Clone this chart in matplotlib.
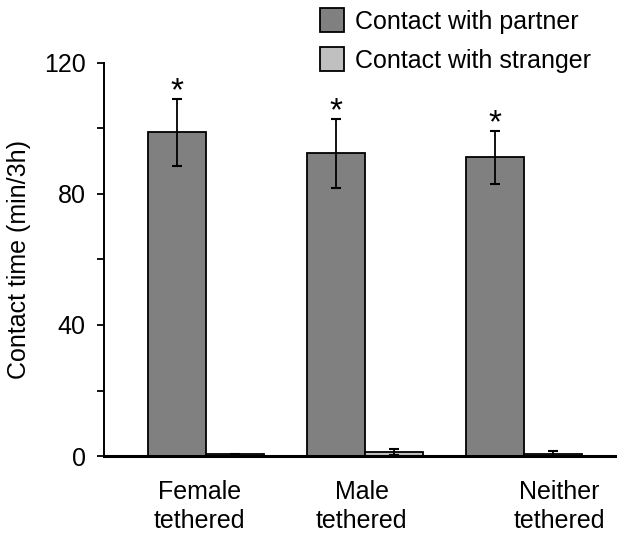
import matplotlib
matplotlib.use("Agg")
import matplotlib.pyplot as plt
import numpy as np

# Contact time (min/3h)
groups = ['Female\ntethered', 'Male\ntethered', 'Neither\ntethered']
partner = [98.8, 92.4, 91.2]
partner_err = [10.2, 10.5, 8.1]
stranger = [0.5, 1.3, 0.7]
stranger_err = [0.3, 1.0, 0.8]
series_names = ['Contact with partner', 'Contact with stranger']
colors = ['#808080', '#c0c0c0']

plt.rcParams['font.family'] = ['Liberation Sans', 'DejaVu Sans']

fig = plt.figure(figsize=(6.29, 5.36), dpi=100)
ax = fig.add_axes([0.165, 0.149, 0.813, 0.734])

x = np.arange(len(groups))
w = 0.365
err_kw = dict(ecolor='black', elinewidth=1.3, capsize=3.3, capthick=1.5)
b1 = ax.bar(x - w / 2, partner, w, yerr=partner_err, color=colors[0],
            edgecolor='black', linewidth=1.3, label=series_names[0],
            error_kw=err_kw)
b2 = ax.bar(x + w / 2, stranger, w, yerr=stranger_err, color=colors[1],
            edgecolor='black', linewidth=1.3, label=series_names[1],
            error_kw=err_kw)

# significance stars
for xi, v, e in zip(x - w / 2, partner, partner_err):
    ax.annotate('*', (xi, v + e), xytext=(0, -1), textcoords='offset points',
                ha='center', va='baseline', fontsize=24, clip_on=False)

ax.set_xlim(-0.642, 2.572)
ax.set_ylim(0, 120)
ax.set_yticks([0, 40, 80, 120])
ax.set_yticks([20, 60, 100], minor=True)
ax.tick_params(axis='y', which='both', direction='out', length=5, width=1.3,
               labelsize=18, pad=8)
ax.set_ylabel('Contact time (min/3h)', fontsize=18, labelpad=9)

# label positions shifted a little as in the original
ax.set_xticks([-0.04, 0.98, 2.22])
ax.set_xticklabels(groups, fontsize=18, linespacing=1.3)
ax.tick_params(axis='x', length=0, pad=17)

for s in ['top', 'right']:
    ax.spines[s].set_visible(False)
ax.spines['left'].set_linewidth(1.4)
ax.spines['bottom'].set_linewidth(2.2)

fig.legend(handles=[b1, b2], labels=series_names, loc='upper left',
           bbox_to_anchor=(0.509, 0.985), frameon=False, fontsize=18,
           handlelength=0.95, handleheight=1.1, handletextpad=0.45,
           labelspacing=0.55, borderpad=0, borderaxespad=0)

fig.savefig('out.png', dpi=100)
